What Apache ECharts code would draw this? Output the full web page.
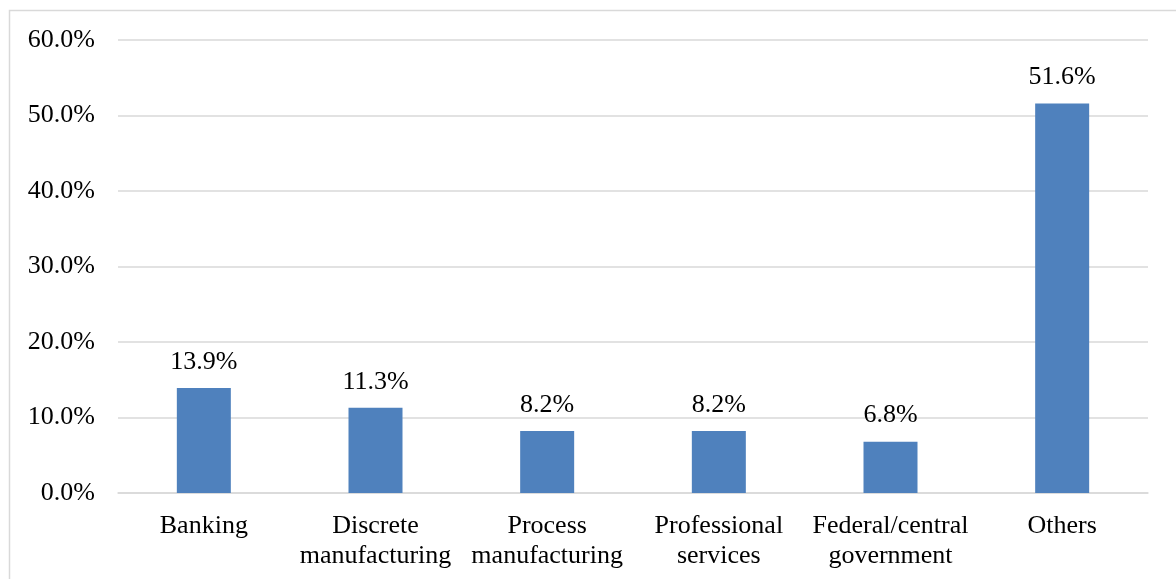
<!DOCTYPE html>
<html>
<head>
<meta charset="utf-8">
<script src="https://cdn.jsdelivr.net/npm/echarts@6/dist/echarts.min.js"></script>
<style>
  html, body { margin: 0; padding: 0; background: #fff; }
  #chart { width: 1176px; height: 579px; }
</style>
</head>
<body>
<div id="chart"></div>
<script>
// Share of users by industry
const categories = ['Banking', 'Discrete\nmanufacturing', 'Process\nmanufacturing', 'Professional\nservices', 'Federal/central\ngovernment', 'Others'];
const shares = [13.9, 11.3, 8.2, 8.2, 6.8, 51.6];
const yTicks = { min: 0, max: 60, interval: 10 };

const FONT = '"Liberation Serif", "Times New Roman", serif';
const chart = echarts.init(document.getElementById('chart'), null, { renderer: 'canvas' });

chart.setOption({
  animation: false,
  backgroundColor: '#ffffff',
  graphic: [{
    type: 'rect',
    shape: { x: 9.5, y: 10.5, width: 1200, height: 600 },
    style: { fill: 'none', stroke: '#d9d9d9', lineWidth: 1.5 },
    silent: true
  }],
  grid: { left: 118, right: 28, top: 40, bottom: 86, containLabel: false },
  xAxis: {
    type: 'category',
    data: categories,
    axisLine: { show: true, lineStyle: { color: '#d9d9d9', width: 1.5 } },
    axisTick: { show: false },
    axisLabel: {
      color: '#000', fontFamily: FONT, fontSize: 26, lineHeight: 30,
      margin: 18, interval: 0
    }
  },
  yAxis: {
    type: 'value',
    min: yTicks.min, max: yTicks.max, interval: yTicks.interval,
    axisLine: { show: false },
    axisTick: { show: false },
    splitLine: { lineStyle: { color: '#d9d9d9', width: 1.5 } },
    axisLabel: {
      color: '#000', fontFamily: FONT, fontSize: 26, margin: 23,
      formatter: v => v.toFixed(1) + '%'
    }
  },
  series: [{
    type: 'bar',
    data: shares,
    barWidth: 54,
    itemStyle: { color: '#4f81bd' },
    label: {
      show: true, position: 'top', distance: 13,
      color: '#000', fontFamily: FONT, fontSize: 26,
      formatter: p => p.value.toFixed(1) + '%'
    }
  }]
});
</script>
</body>
</html>
